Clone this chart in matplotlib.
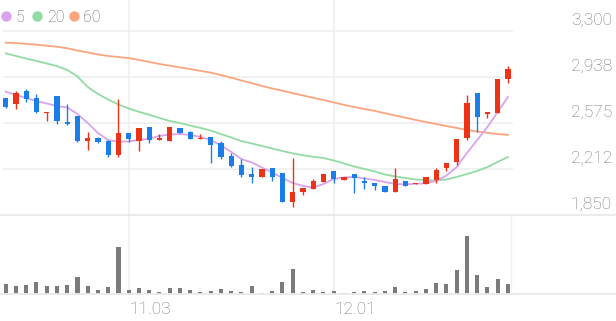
import matplotlib.pyplot as plt
from matplotlib.lines import Line2D

# candle data (won)
opens = [2770, 2722, 2829, 2770, 2651, 2788, 2583, 2630, 2436, 2454,
         2436, 2323, 2494, 2433, 2546, 2439, 2433, 2538, 2504, 2447,
         2462, 2415, 2315, 2244, 2173, 2152, 2218, 2179, 1955, 2029,
         2055, 2113, 2197, 2126, 2173, 2121, 2105, 2081, 2029, 2121,
         2092, 2094, 2126, 2223, 2270, 2455, 2814, 2646, 2656, 2919]
highs = [2775, 2829, 2840, 2801, 2664, 2788, 2722, 2630, 2507, 2462,
         2441, 2767, 2499, 2533, 2546, 2488, 2541, 2538, 2512, 2488,
         2467, 2436, 2336, 2289, 2226, 2210, 2218, 2179, 2297, 2065,
         2131, 2173, 2197, 2152, 2173, 2147, 2105, 2081, 2218, 2121,
         2105, 2147, 2223, 2258, 2449, 2796, 2814, 2659, 2919, 3024]
lows = [2690, 2688, 2741, 2651, 2593, 2565, 2557, 2423, 2362, 2415,
        2310, 2305, 2428, 2357, 2420, 2439, 2433, 2494, 2447, 2447,
        2258, 2289, 2231, 2152, 2105, 2147, 2120, 1955, 1916, 2008,
        2055, 2113, 2105, 2126, 2026, 2053, 2047, 2029, 2029, 2079,
        2092, 2094, 2105, 2199, 2244, 2441, 2507, 2612, 2656, 2888]
closes = [2699, 2809, 2766, 2664, 2664, 2593, 2567, 2433, 2454, 2428,
          2321, 2494, 2447, 2533, 2441, 2459, 2541, 2499, 2449, 2459,
          2402, 2310, 2236, 2165, 2152, 2210, 2147, 1955, 2034, 2065,
          2121, 2173, 2134, 2152, 2139, 2100, 2079, 2029, 2131, 2079,
          2105, 2147, 2205, 2258, 2449, 2730, 2620, 2659, 2919, 2998]
volumes = [29, 25, 27, 36, 24, 25, 26, 52, 23, 13,
           21, 140, 13, 19, 12, 6, 17, 17, 11, 6,
           10, 14, 10, 7, 23, 4, 9, 37, 75, 6,
           12, 7, 9, 2, 6, 10, 7, 8, 21, 5,
           9, 14, 32, 29, 71, 175, 56, 20, 46, 31]

# moving averages as drawn
ma5 = [2822, 2796, 2772, 2748, 2729, 2709, 2697, 2646, 2575, 2496,
       2441, 2428, 2429, 2441, 2451, 2473, 2484, 2488, 2481, 2465,
       2441, 2398, 2347, 2291, 2264, 2224, 2185, 2142, 2102, 2079,
       2067, 2094, 2134, 2146, 2150, 2138, 2126, 2110, 2094, 2092,
       2096, 2100, 2118, 2161, 2228, 2339, 2441, 2544, 2662, 2780]
ma20 = [3124, 3103, 3083, 3064, 3044, 3024, 2993, 2942, 2859, 2804,
        2760, 2721, 2689, 2663, 2640, 2615, 2591, 2575, 2555, 2536,
        2516, 2488, 2461, 2432, 2414, 2394, 2374, 2354, 2336, 2321,
        2309, 2299, 2280, 2256, 2232, 2213, 2193, 2169, 2154, 2142,
        2130, 2124, 2122, 2130, 2150, 2173, 2197, 2228, 2268, 2307]
ma60 = [3208, 3205, 3199, 3192, 3184, 3176, 3164, 3146, 3131, 3115,
        3103, 3095, 3086, 3072, 3056, 3040, 3027, 3013, 3000, 2986,
        2972, 2953, 2932, 2910, 2889, 2867, 2847, 2829, 2810, 2792,
        2774, 2756, 2737, 2718, 2701, 2685, 2670, 2652, 2634, 2617,
        2599, 2583, 2567, 2551, 2536, 2520, 2508, 2498, 2488, 2481]

price_ticks = [3300, 2937.5, 2575, 2212.5, 1850]
price_labels = ['3,300', '2,938', '2,575', '2,212', '1,850']
date_pos = [12, 32]
date_labels = ['11.03', '12.01']

RED = '#ec3317'
BLUE = '#1a7de8'
GRID = '#f0f0f0'
TXT = '#777777'
plt.rcParams['font.family'] = ['Roboto', 'DejaVu Sans']

W, H = 616, 321
def fx(px):
    return px / W
def fy(py):
    return 1 - py / H

fig = plt.figure(figsize=(W / 100, H / 100), dpi=100)
xl = ((3 - 5.7) / 10.25, (513 - 5.7) / 10.25)

ax = fig.add_axes([fx(3), fy(215), fx(510), 215 / H])
axv = fig.add_axes([fx(3), fy(294), fx(510), 79 / H])
for a in (ax, axv):
    a.set_xlim(*xl)
    a.axis('off')
ax.set_ylim(1850, 3544.3)
axv.set_ylim(0, max(volumes) * 79 / 58.3)

x = list(range(len(closes)))

# grid
for t in price_ticks[:-1]:
    ax.axhline(t, color=GRID, lw=1.3, zorder=0)
for p in date_pos:
    fig.add_artist(Line2D([fx(5.7 + 10.25 * p)] * 2, [fy(0), fy(294)],
                          color=GRID, lw=1.2, zorder=0))
fig.add_artist(Line2D([0, 1], [fy(215), fy(215)], color='#e9e9e9', lw=1.3))
fig.add_artist(Line2D([0, 1], [fy(294), fy(294)], color='#e9e9e9', lw=1.3))
fig.add_artist(Line2D([fx(511)] * 2, [fy(215), fy(294)], color='#f0f0f0', lw=1))

# moving averages
ax.plot(x, ma60, color='#fba57f', lw=1.3, zorder=2)
ax.plot(x, ma20, color='#92dca3', lw=1.3, zorder=2)
ax.plot(x, ma5, color='#d9a3ef', lw=1.3, zorder=2)

# candles
for i in x:
    up = closes[i] >= opens[i]
    c = RED if up else BLUE
    ax.vlines(i, lows[i], highs[i], color=c, lw=1.0, zorder=3)
    lo = min(opens[i], closes[i])
    h = max(abs(closes[i] - opens[i]), 9)
    ax.bar(i, h, bottom=lo, width=0.52, color=c, zorder=4, linewidth=0)

# volume
axv.bar(x, volumes, width=0.4, color='#7b7b7b', linewidth=0)

# right axis labels
for t, lab in zip(price_ticks, price_labels):
    ax.annotate(lab, xy=(fx(612), t), xycoords=('figure fraction', 'data'),
                xytext=(0, 4.5), textcoords='offset points', ha='right',
                va='baseline', fontsize=12.5, color=TXT, fontweight='light')

# date labels
for p, lab in zip(date_pos, date_labels):
    fig.text(fx(5.7 + 10.25 * p + 1), fy(314), lab, ha='left', va='baseline',
             fontsize=12.5, color=TXT, fontweight='light')

# legend
legend = [('5', '#d9a3ef', 6, 16), ('20', '#92dca3', 37, 47), ('60', '#fba57f', 74, 83)]
for lab, col, cx, tx in legend:
    fig.add_artist(Line2D([fx(cx)], [fy(15.5)], marker='o', markersize=7.5,
                          color=col, markeredgewidth=0))
    fig.text(fx(tx), fy(22), lab, ha='left', va='baseline', fontsize=11.5,
             color='#666666', fontweight='light')

fig.savefig('out.png', dpi=100)
